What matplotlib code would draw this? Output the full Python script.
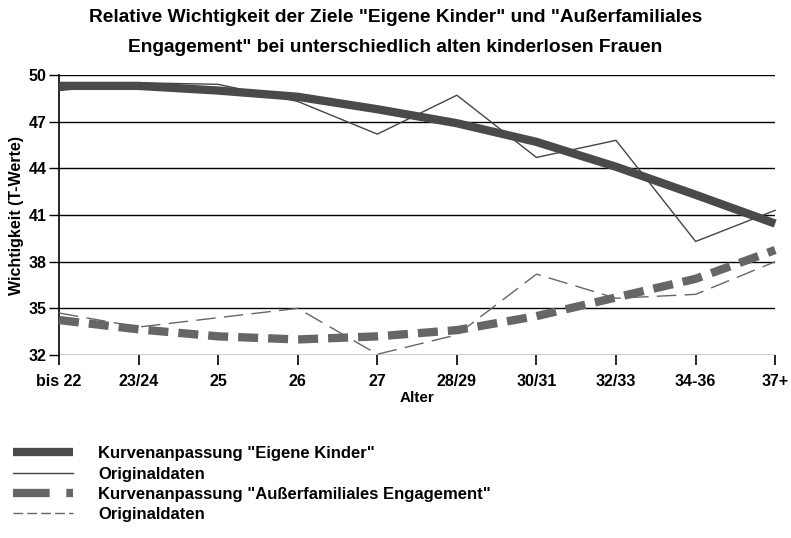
import matplotlib
matplotlib.use("Agg")
import matplotlib.pyplot as plt
from matplotlib.lines import Line2D

plt.rcParams['font.family'] = ['Liberation Sans', 'DejaVu Sans']
plt.rcParams['font.weight'] = 'bold'

categories = ["bis 22", "23/24", "25", "26", "27", "28/29", "30/31", "32/33", "34-36", "37+"]
kinder_fit = [49.3, 49.3, 49.0, 48.6, 47.8, 46.9, 45.7, 44.1, 42.3, 40.45]
kinder_orig = [49.0, 49.5, 49.4, 48.3, 46.2, 48.7, 44.7, 45.8, 39.3, 41.3]
engag_fit = [34.25, 33.65, 33.2, 33.0, 33.2, 33.6, 34.5, 35.7, 36.9, 38.75]
engag_orig = [34.7, 33.8, 34.4, 35.0, 32.05, 33.3, 37.2, 35.65, 35.9, 38.0]
yticks = [32, 35, 38, 41, 44, 47, 50]

fig = plt.figure(figsize=(7.91, 5.38), dpi=100)
ax = fig.add_axes([0.0746, 0.3401, 0.9054, 0.5205])
x = list(range(len(categories)))

LW = 6.0
ax.plot(x, kinder_fit, color='#4a4a4a', lw=LW, solid_capstyle='butt', zorder=4, clip_on=False)
ax.plot(x, kinder_orig, color='#444444', lw=1.0, zorder=3, clip_on=False)
ax.plot(x, engag_fit, color='#666666', lw=LW, dashes=(2.4, 1.2), dash_capstyle='butt', zorder=4, clip_on=False)
ax.plot(x, engag_orig, color='#666666', lw=1.0, dashes=(14, 6), zorder=3, clip_on=False)

ax.set_xlim(0, len(categories) - 1)
ax.set_ylim(32, 50)
ax.set_yticks(yticks)
ax.set_xticks(x)
ax.set_xticklabels(categories)
for yv in yticks:
    ax.axhline(yv, color='black', lw=1.0, zorder=1)
for s in ['top', 'right', 'bottom']:
    ax.spines[s].set_visible(False)
ax.spines['left'].set_linewidth(1.2)
ax.tick_params(axis='x', length=7, width=1.2, labelsize=11.5, pad=7)
ax.tick_params(axis='y', length=7, width=1.0, labelsize=11.5, pad=2)
ax.set_xlabel("Alter", fontsize=11, fontweight='bold', labelpad=1)
ax.set_ylabel("Wichtigkeit (T-Werte)", fontsize=11.5, fontweight='bold', labelpad=3)

fig.text(0.5, 0.967, 'Relative Wichtigkeit der Ziele "Eigene Kinder" und "Außerfamiliales',
         ha='center', va='center', fontsize=13.8, fontweight='bold')
fig.text(0.5, 0.911, 'Engagement" bei unterschiedlich alten kinderlosen Frauen',
         ha='center', va='center', fontsize=13.8, fontweight='bold')

handles = [
    Line2D([], [], color='#4a4a4a', lw=LW, solid_capstyle='butt'),
    Line2D([], [], color='#444444', lw=1.0),
    Line2D([], [], color='#666666', lw=LW, dashes=(4.4, 2.0), dash_capstyle='butt'),
    Line2D([], [], color='#666666', lw=1.0, dashes=(7.0, 3.0)),
]
labels = ['Kurvenanpassung "Eigene Kinder"', 'Originaldaten',
          'Kurvenanpassung "Außerfamiliales Engagement"', 'Originaldaten']
fig.legend(handles, labels, loc='upper left', bbox_to_anchor=(0.008, 0.183),
           frameon=False, fontsize=12, handlelength=3.6, handletextpad=1.5,
           labelspacing=0.32, borderaxespad=0)

fig.savefig("out.png", dpi=100)
